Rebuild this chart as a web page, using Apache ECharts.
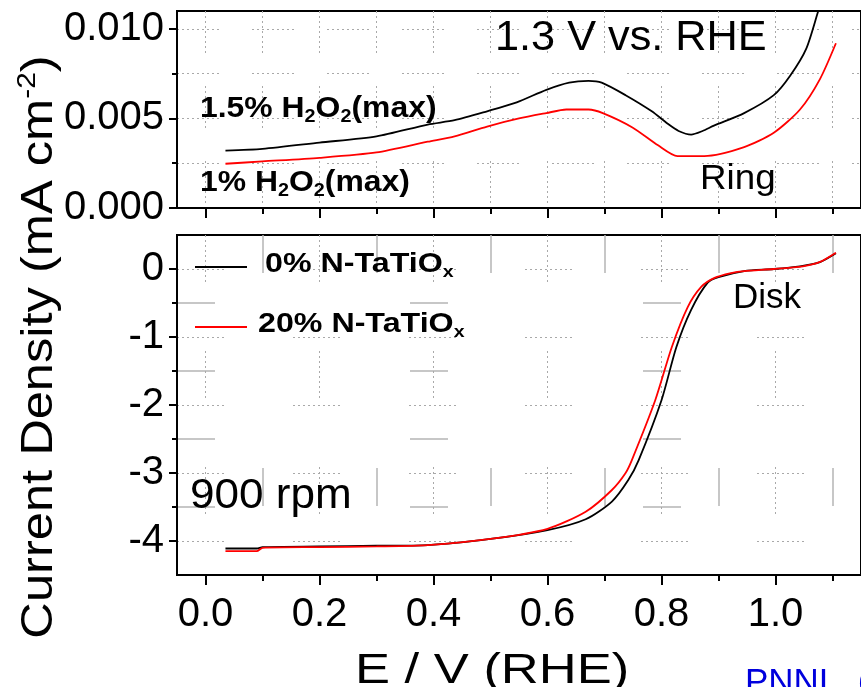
<!DOCTYPE html>
<html>
<head>
<meta charset="utf-8">
<style>
  html, body { margin: 0; padding: 0; background: #fff; }
  #chart { width: 861px; height: 687px; }
</style>
<script src="https://cdn.jsdelivr.net/npm/echarts@6/dist/echarts.min.js"></script>
</head>
<body>
<div id="chart"></div>
<script>
// Potential axis (V vs. RHE): major and minor tick positions
const eMajor = [0.0, 0.2, 0.4, 0.6, 0.8, 1.0];
const eMinor = [0.1, 0.3, 0.5, 0.7, 0.9, 1.1];

// Ring current axis (mA cm^-2)
const ringMajor = [0.000, 0.005, 0.010];
const ringMinor = [0.0025, 0.0075];

// Disk current axis (mA cm^-2)
const diskMajor = [-4, -3, -2, -1, 0];
const diskMinor = [-3.5, -2.5, -1.5, -0.5];

// Ring current, 0% N-TaTiOx (black)
const ringBlackE = [0.035, 0.10, 0.20, 0.30, 0.39, 0.437, 0.494, 0.546, 0.598, 0.638, 0.672, 0.695, 0.737, 0.783, 0.811, 0.83, 0.852, 0.872, 0.892, 0.945, 0.997, 1.026, 1.054, 1.075, 1.09];
const ringBlackI = [0.0032, 0.0033, 0.00365, 0.0040, 0.00466, 0.0049, 0.0054, 0.0059, 0.0066, 0.0070, 0.0071, 0.00700, 0.0063, 0.0054, 0.0047, 0.0043, 0.0041, 0.0043, 0.0046, 0.0053, 0.0063, 0.0074, 0.0089, 0.0110, 0.0125];

// Ring current, 20% N-TaTiOx (red)
const ringRedE = [0.035, 0.10, 0.20, 0.30, 0.39, 0.437, 0.494, 0.55, 0.598, 0.633, 0.672, 0.697, 0.749, 0.794, 0.828, 0.875, 0.945, 0.997, 1.043, 1.078, 1.106];
const ringRedI = [0.00247, 0.0026, 0.0028, 0.0031, 0.0037, 0.0040, 0.00455, 0.0050, 0.0053, 0.0055, 0.0055, 0.0053, 0.0045, 0.0035, 0.0029, 0.0029, 0.0034, 0.0042, 0.0055, 0.0072, 0.0092];

// Disk current, 0% N-TaTiOx (black)
const diskBlackE = [0.035, 0.09, 0.10, 0.20, 0.30, 0.39, 0.50, 0.60, 0.667, 0.713, 0.742, 0.76, 0.80, 0.826, 0.852, 0.881, 0.90, 0.945, 0.997, 1.043, 1.078, 1.106];
const diskBlackI = [-4.11, -4.11, -4.09, -4.08, -4.07, -4.06, -3.97, -3.84, -3.68, -3.42, -3.10, -2.81, -1.93, -1.15, -0.60, -0.20, -0.12, -0.03, 0.00, 0.04, 0.10, 0.23];

// Disk current, 20% N-TaTiOx (red)
const diskRedE = [0.035, 0.09, 0.10, 0.20, 0.30, 0.39, 0.50, 0.60, 0.667, 0.713, 0.737, 0.748, 0.789, 0.818, 0.846, 0.87, 0.893, 0.922, 0.945, 0.997, 1.048, 1.077, 1.106];
const diskRedI = [-4.15, -4.15, -4.10, -4.09, -4.08, -4.06, -3.97, -3.82, -3.57, -3.25, -3.00, -2.81, -1.93, -1.15, -0.56, -0.26, -0.13, -0.06, -0.03, 0.00, 0.04, 0.10, 0.24];

const pairs = (xs, ys) => xs.map((x, i) => [x, ys[i]]);

// dotted run of a given length followed by a gap
function dots(len, gap) {
  const a = [];
  for (let i = 0; i < Math.floor(len / 5); i++) a.push(2, 3);
  a[a.length - 1] += gap;
  return a;
}

const FONT = 'Liberation Sans, Arial, sans-serif';
const GRID_GRAY = '#a9a9a9';

function xAxisDef(gridIndex, values, tickLen, showLabels, split) {
  return {
    type: 'value', gridIndex, min: -0.05, max: 1.15, position: 'bottom',
    axisLine: { show: true, onZero: false, lineStyle: { color: '#000', width: 2 } },
    axisTick: { show: true, inside: false, length: tickLen, customValues: values, lineStyle: { color: '#000', width: 2 } },
    axisLabel: {
      show: showLabels, customValues: values, margin: 20,
      fontFamily: FONT, fontSize: 40, color: '#000',
      formatter: v => v.toFixed(1)
    },
    splitLine: { show: true, lineStyle: split },
    minorTick: { show: false }
  };
}

function yAxisDef(gridIndex, min, max, values, tickLen, showLabels, fmt, split) {
  return {
    type: 'value', gridIndex, min, max, position: 'left',
    axisLine: { show: true, onZero: false, lineStyle: { color: '#000', width: 2 } },
    axisTick: { show: true, inside: false, length: tickLen, customValues: values, lineStyle: { color: '#000', width: 2 } },
    axisLabel: {
      show: showLabels, customValues: values, margin: 13,
      fontFamily: FONT, fontSize: 40, color: '#000',
      formatter: fmt
    },
    splitLine: { show: true, lineStyle: split },
    minorTick: { show: false }
  };
}

const topSplit = { color: GRID_GRAY, width: 1, type: dots(45, 30) };
const diskMajorSplit = { color: GRID_GRAY, width: 1, type: dots(50, 66) };
const diskMinorSplit = { color: '#b5b5b5', width: 1.5, type: [38, 195] };

function lineSeries(name, data, color, xi, yi) {
  return {
    name, type: 'line', data, xAxisIndex: xi, yAxisIndex: yi,
    showSymbol: false, symbol: 'none', smooth: 0.25,
    clip: true, lineStyle: { color, width: 1.8 }, itemStyle: { color },
    z: 5
  };
}

// rich text style blocks for labels with subscripts
function subRich(color, size) {
  return {
    b: { fontFamily: FONT, fontWeight: 'bold', fontSize: size, color, lineHeight: 34 },
    s: { fontFamily: FONT, fontWeight: 'bold', fontSize: Math.round(size * 0.62), color, lineHeight: 14, verticalAlign: 'bottom' }
  };
}

function plainText(text, x, y, size, color, scaleX) {
  return {
    type: 'text', x, y, scaleX: scaleX || 1, z: 100,
    style: { text, fontFamily: FONT, fontSize: size, fill: color, align: 'left', verticalAlign: 'middle' }
  };
}

const chart = echarts.init(document.getElementById('chart'), null, { renderer: 'canvas' });

chart.setOption({
  animation: false,
  backgroundColor: '#fff',
  grid: [
    { left: 177, top: 11, right: -9, height: 197, show: true, borderColor: '#000', borderWidth: 2, backgroundColor: 'transparent', containLabel: false },
    { left: 177, top: 235, right: -9, height: 340, show: true, borderColor: '#000', borderWidth: 2, backgroundColor: 'transparent', containLabel: false }
  ],
  xAxis: [
    xAxisDef(0, eMajor, 10, false, topSplit),
    xAxisDef(0, eMinor, 6, false, topSplit),
    xAxisDef(1, eMajor, 10, true, diskMajorSplit),
    xAxisDef(1, eMinor, 6, false, diskMinorSplit)
  ],
  yAxis: [
    yAxisDef(0, 0, 0.011, ringMajor, 8, true, v => v.toFixed(3), topSplit),
    yAxisDef(0, 0, 0.011, ringMinor, 5, false, v => v, topSplit),
    yAxisDef(1, -4.5, 0.5, diskMajor, 8, true, v => String(Math.round(v)), diskMajorSplit),
    yAxisDef(1, -4.5, 0.5, diskMinor, 5, false, v => v, diskMinorSplit)
  ],
  series: [
    lineSeries('1.5% H2O2(max)', pairs(ringBlackE, ringBlackI), '#000000', 0, 0),
    lineSeries('1% H2O2(max)', pairs(ringRedE, ringRedI), '#ff0000', 0, 0),
    lineSeries('0% N-TaTiOx', pairs(diskBlackE, diskBlackI), '#000000', 2, 2),
    lineSeries('20% N-TaTiOx', pairs(diskRedE, diskRedI), '#ff0000', 2, 2)
  ],
  graphic: [
    // y-axis title, reading bottom to top
    {
      type: 'text', x: 40, y: 347, rotation: Math.PI / 2, scaleX: 1.15, z: 100,
      style: {
        text: '{a|Current Density (mA cm}{s|-2}{a|)}',
        align: 'center', verticalAlign: 'middle',
        rich: {
          a: { fontFamily: FONT, fontSize: 44, color: '#000', lineHeight: 50 },
          s: { fontFamily: FONT, fontSize: 26, color: '#000', lineHeight: 30, verticalAlign: 'top' }
        }
      }
    },
    // x-axis title
    plainText('E / V (RHE)', 355, 671, 42, '#000', 1.25),
    // panel annotations
    plainText('1.3 V vs. RHE', 495, 38, 42, '#000', 1.03),
    plainText('Ring', 700, 179, 35, '#000', 1.05),
    plainText('Disk', 733, 298, 35, '#000', 1.0),
    plainText('900 rpm', 190, 496, 42, '#000', 1.05),
    plainText('PNNL_(', 745, 683, 35, '#0000dd', 1.0),
    // ring curve labels
    {
      type: 'text', x: 200, y: 109, scaleX: 1.1, z: 100,
      style: { text: '{b|1.5% H}{s|2}{b|O}{s|2}{b|(max)}', align: 'left', verticalAlign: 'middle', rich: subRich('#000', 29) }
    },
    {
      type: 'text', x: 200, y: 183, scaleX: 1.1, z: 100,
      style: { text: '{b|1% H}{s|2}{b|O}{s|2}{b|(max)}', align: 'left', verticalAlign: 'middle', rich: subRich('#ff0000', 29) }
    },
    // disk legend
    { type: 'line', z: 100, shape: { x1: 195, y1: 267, x2: 247, y2: 267 }, style: { stroke: '#000', lineWidth: 1.8 } },
    {
      type: 'text', x: 265, y: 264, scaleX: 1.15, z: 100,
      style: { text: '{b|0% N-TaTiO}{s|x}', align: 'left', verticalAlign: 'middle', rich: subRich('#000', 28) }
    },
    { type: 'line', z: 100, shape: { x1: 195, y1: 327, x2: 247, y2: 327 }, style: { stroke: '#ff0000', lineWidth: 1.8 } },
    {
      type: 'text', x: 258, y: 324, scaleX: 1.15, z: 100,
      style: { text: '{b|20% N-TaTiO}{s|x}', align: 'left', verticalAlign: 'middle', rich: subRich('#ff0000', 28) }
    }
  ]
});
</script>
</body>
</html>
